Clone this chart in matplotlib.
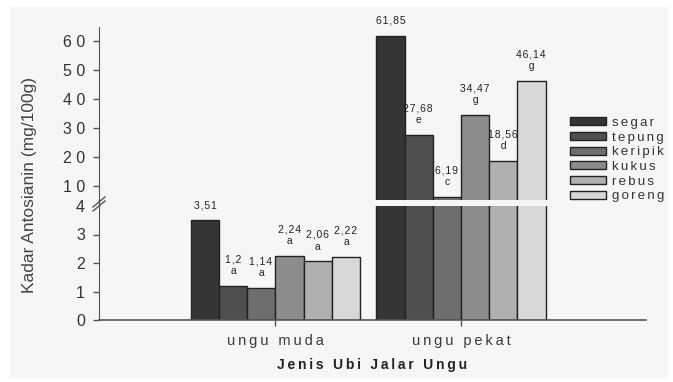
import numpy as np
import matplotlib
matplotlib.use('Agg')
import matplotlib.pyplot as plt
from matplotlib.patches import Rectangle
from matplotlib.lines import Line2D

plt.rcParams['font.family'] = ['Liberation Sans', 'DejaVu Sans']

# data
groups = ['ungu muda', 'ungu pekat']
treatments = ['segar', 'tepung', 'keripik', 'kukus', 'rebus', 'goreng']
muda = [3.51, 1.2, 1.14, 2.24, 2.06, 2.22]
pekat = [61.85, 27.68, 6.19, 34.47, 18.56, 46.14]
muda_txt = ['3,51', '1,2\na', '1,14\na', '2,24\na', '2,06\na', '2,22\na']
pekat_txt = ['61,85', '27,68\ne', '6,19\nc', '34,47\ng', '18,56\nd', '46,14\ng']
colors = ['#353535', '#4f4f4f', '#6e6e6e', '#8c8c8c', '#b0b0b0', '#d8d8d8']

W, H = 673, 382
TS = '\u2009'
HS = '\u200a'


def sp(s, c=TS):
    # letter spacing like the original
    return c.join(s)


fig = plt.figure(figsize=(W / 100, H / 100), dpi=100, facecolor='white')
fig.patches.append(Rectangle((10 / W, 1 - 377 / H), 657 / W, 370 / H,
                             transform=fig.transFigure, color='#f6f6f6', zorder=-10))

left = 99 / W
right = 646 / W
ax_lo = fig.add_axes([left, 1 - 320 / H, right - left, (320 - 206) / H])
ax_hi = fig.add_axes([left, 1 - 200 / H, right - left, (200 - 27) / H])
for a in (ax_lo, ax_hi):
    a.set_facecolor('none')
    a.set_xlim(-0.951, 1.997)
    for s in ['top', 'right']:
        a.spines[s].set_visible(False)
    a.spines['left'].set_color('#555555')
    a.tick_params(axis='y', colors='#555555', labelcolor='#333333',
                  labelsize=11.5, length=4, width=1, pad=6)

ax_hi.spines['bottom'].set_visible(False)
ax_lo.spines['bottom'].set_color('#555555')
ax_lo.spines['bottom'].set_linewidth(1.2)

x = np.arange(len(groups))
bw = 0.152
vals = np.array([muda, pekat])
for i, t in enumerate(treatments):
    xs = x + (i - 2.5) * bw
    ax_lo.bar(xs, vals[:, i], bw, color=colors[i], edgecolor='#222222', linewidth=1, zorder=2)
    ax_hi.bar(xs, vals[:, i], bw, color=colors[i], edgecolor='#222222', linewidth=1, zorder=2,
              label=sp(t, HS + HS))
    ax_lo.annotate(sp(muda_txt[i], HS), (xs[0], muda[i]), xytext=(0, 7), textcoords='offset points',
                   ha='center', va='bottom', fontsize=7.5, color='#222222', linespacing=1.2)
    ax_hi.annotate(sp(pekat_txt[i], HS), (xs[1], pekat[i]), xytext=(0, 7), textcoords='offset points',
                   ha='center', va='bottom', fontsize=7.5, color='#222222', linespacing=1.2,
                   annotation_clip=False)

ax_lo.set_ylim(0, 4)
ax_lo.set_yticks([0, 1, 2, 3, 4])
ax_lo.set_yticklabels([sp(str(v), ' ') for v in [0, 1, 2, 3, 4]])
ax_lo.yaxis.get_major_ticks()[4].tick1line.set_visible(False)
ax_hi.set_ylim(5.17, 64.8)
ax_hi.set_yticks([10, 20, 30, 40, 50, 60])
ax_hi.set_yticklabels([sp(str(v), ' ') for v in [10, 20, 30, 40, 50, 60]])
ax_hi.set_xticks([])

ax_lo.set_xticks(x)
ax_lo.set_xticklabels([sp(g) for g in groups], fontsize=10.5, color='#333333')
ax_lo.tick_params(axis='x', colors='#555555', labelcolor='#3a3a3a', length=4, width=1, pad=6)
ax_lo.set_xlabel(sp('Jenis Ubi Jalar Ungu'), fontsize=10, fontweight='bold', color='#222222',
                 labelpad=7)

# spine through the break and the // mark
fig.add_artist(Line2D([left, left], [1 - 206 / H, 1 - 200 / H], color='#555555', lw=1))
for dy in (0, 4):
    fig.add_artist(Line2D([(93) / W, (105) / W], [1 - (211 - dy) / H, 1 - (201 - dy) / H],
                          color='#555555', lw=1))

fig.text(30 / W, 1 - 185 / H, 'Kadar Antosianin (mg/100g)', rotation=90, ha='center',
         va='center', fontsize=12.5, color='#444444')

leg = ax_hi.legend(loc='upper left', bbox_to_anchor=(570 / W, 1 - 117 / H),
                   bbox_transform=fig.transFigure, frameon=False, fontsize=9.5,
                   handlelength=2.7, handleheight=0.55, handletextpad=0.5,
                   labelspacing=0.2, borderpad=0, borderaxespad=0)
for t in leg.get_texts():
    t.set_color('#333333')

fig.savefig('out.png', dpi=100, facecolor=fig.get_facecolor())
